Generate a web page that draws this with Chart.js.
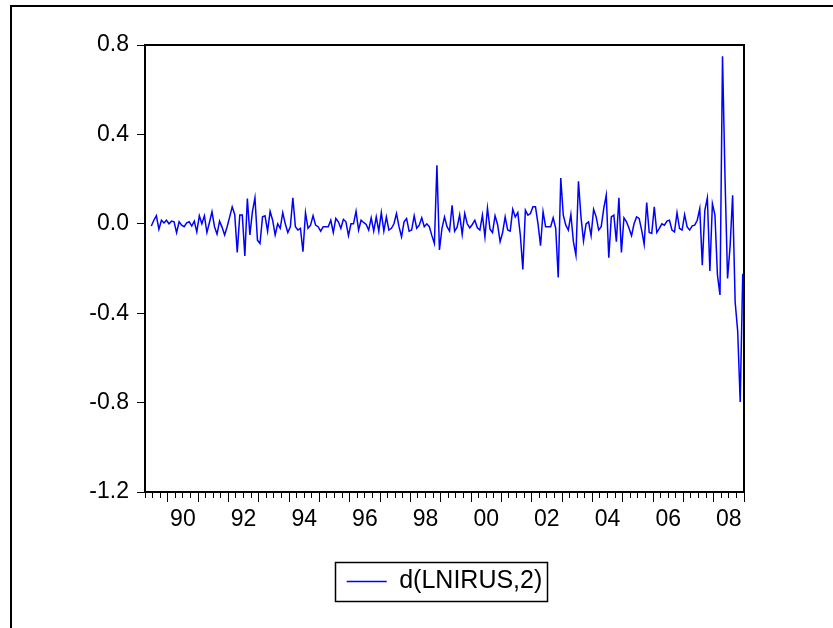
<!DOCTYPE html>
<html>
<head>
<meta charset="utf-8">
<script src="https://cdn.jsdelivr.net/npm/chart.js@4.4.1/dist/chart.umd.min.js"></script>
<style>
  html, body { margin: 0; padding: 0; background: #fff; }
  canvas { display: block; }
</style>
</head>
<body>
<canvas id="chart" width="833" height="628"></canvas>
<script>
// monthly sample, first observation 1989M06
const startYear = 1989;
const startMonth = 6;
const seriesName = 'd(LNIRUS,2)';

// second difference of ln(IRUS)
const values = [
  -0.010, 0.016, 0.036, -0.024, 0.016, 0.004, 0.016, 0.000, 0.012, 0.009,
  -0.040, 0.009, -0.006, -0.013, 0.004, 0.009, -0.010, 0.012, -0.036, 0.036,
  0.000, 0.036, -0.039, 0.006, 0.054, -0.013, -0.046, 0.012, -0.016, -0.050,
  -0.013, 0.031, 0.076, 0.042, -0.128, 0.039, 0.039, -0.144, 0.113, -0.050,
  0.054, 0.116, -0.073, -0.088, 0.031, 0.036, -0.033, 0.056, 0.016, -0.050,
  0.000, -0.020, 0.050, 0.000, -0.039, -0.013, 0.116, -0.013, -0.028, -0.020,
  -0.125, 0.050, -0.020, -0.006, 0.036, -0.006, -0.013, -0.033, -0.013, -0.013,
  -0.013, 0.016, -0.039, 0.024, 0.009, -0.020, 0.020, 0.009, -0.053, 0.000,
  0.000, 0.056, -0.028, 0.016, 0.006, -0.003, -0.028, 0.027, -0.033, 0.031,
  -0.033, 0.050, -0.033, 0.031, -0.028, -0.020, 0.000, 0.046, -0.013, -0.058,
  0.009, 0.024, -0.033, -0.028, 0.036, -0.020, -0.006, 0.027, -0.013, 0.000,
  -0.013, -0.053, -0.088, 0.262, -0.117, -0.020, 0.031, -0.013, -0.033, 0.083,
  -0.033, -0.015, 0.040, -0.048, 0.046, 0.000, -0.018, -0.003, 0.016, -0.018,
  -0.028, 0.039, -0.058, 0.071, -0.024, -0.039, 0.036, -0.003, -0.080, -0.039,
  0.031, -0.028, -0.033, 0.065, 0.031, 0.050, -0.050, -0.204, 0.061, 0.039,
  0.046, 0.076, 0.076, 0.000, -0.098, 0.054, -0.013, -0.013, -0.013, 0.027,
  -0.020, -0.240, 0.205, 0.039, -0.006, -0.028, 0.042, -0.080, -0.140, 0.190,
  0.031, -0.077, 0.000, 0.009, -0.053, 0.065, 0.031, -0.028, -0.013, 0.068,
  0.128, -0.152, 0.031, 0.039, -0.080, 0.116, -0.128, 0.027, 0.009, -0.020,
  -0.053, 0.000, 0.031, 0.024, -0.028, -0.092, 0.095, -0.039, -0.043, 0.076,
  -0.039, -0.020, 0.000, -0.006, 0.012, 0.016, -0.028, -0.036, 0.050, -0.021,
  -0.028, 0.041, -0.014, -0.028, -0.009, -0.006, 0.016, 0.068, -0.185, 0.060,
  0.116, -0.211, 0.090, 0.040, -0.230, -0.318, 0.750, 0.200, -0.245, -0.100,
  0.128, -0.350, -0.480, -0.797, -0.223
];

// axis ranges and tick labels
const xMin = 1989.25;   // 1989M04
const xMax = 2009.0;    // end of 2008M12
const yMin = -1.2;
const yMax = 0.8;
const yStep = 0.4;
const yearLabels = ['90', '92', '94', '96', '98', '00', '02', '04', '06', '08'];

// each month is placed in the middle of its slot
const points = values.map((v, i) => ({
    x: startYear + (startMonth - 1 + i + 0.5) / 12,
    y: v
}));

const tickFont = { family: '"Liberation Sans", Arial, sans-serif', size: 23 };

const frame = {
    id: 'frame',
    beforeDraw(chart) {
        const c = chart.ctx;
        c.save();
        c.fillStyle = '#fff';
        c.fillRect(0, 0, chart.width, chart.height);
        c.strokeStyle = '#000';
        c.lineWidth = 2;
        c.beginPath();
        c.moveTo(11, chart.height);
        c.lineTo(11, 6);
        c.lineTo(chart.width, 6);
        c.stroke();
        c.restore();
    },
    afterDraw(chart) {
        // box round the legend entry
        const hb = chart.legend.legendHitBoxes[0];
        if (!hb) return;
        const c = chart.ctx;
        c.save();
        c.strokeStyle = '#000';
        c.lineWidth = 1.5;
        c.strokeRect(Math.round(hb.left - 12) + 0.5, Math.round(hb.top - 7) + 0.5,
                     Math.round(hb.width + 16), Math.round(hb.height + 14));
        c.restore();
    }
};

new Chart(document.getElementById('chart').getContext('2d'), {
    type: 'line',
    data: {
        datasets: [{
            label: seriesName,
            data: points,
            borderColor: '#0000FF',
            backgroundColor: '#0000FF',
            borderWidth: 1.5,
            pointRadius: 0,
            tension: 0,
            fill: false
        }]
    },
    options: {
        responsive: false,
        animation: false,
        layout: { padding: { top: 45, right: 89, bottom: 24, left: 0 } },
        plugins: {
            tooltip: { enabled: false },
            legend: {
                display: true,
                position: 'bottom',
                fullSize: false,
                labels: {
                    color: '#000',
                    font: { family: '"Liberation Sans", Arial, sans-serif', size: 25 },
                    usePointStyle: true,
                    pointStyle: 'line',
                    pointStyleWidth: 40,
                    padding: 10
                }
            }
        },
        scales: {
            x: {
                type: 'linear',
                position: 'bottom',
                min: xMin,
                max: xMax,
                afterFit: (scale) => { scale.height = 67; },
                afterBuildTicks: (scale) => {
                    const ticks = [];
                    for (let q = Math.round(xMin * 4); q <= Math.round(xMax * 4); q++) {
                        ticks.push({ value: q / 4 });
                    }
                    scale.ticks = ticks;
                },
                border: { display: true, color: '#000', width: 2 },
                grid: {
                    drawOnChartArea: false,
                    drawTicks: true,
                    tickLength: 10,
                    tickColor: '#000',
                    tickWidth: 1,
                    tickBorderDash: (ctx) => (ctx.tick && ctx.tick.value % 1 === 0) ? [] : [5, 40]
                },
                ticks: {
                    autoSkip: false,
                    maxRotation: 0,
                    padding: 4,
                    color: '#000',
                    font: tickFont,
                    callback: (value) => {
                        if (value % 1 !== 0.5) return '';
                        const lab = String(Math.floor(value)).slice(2);
                        return yearLabels.includes(lab) ? lab : '';
                    }
                }
            },
            xTop: {
                type: 'linear',
                position: 'top',
                min: xMin,
                max: xMax,
                afterFit: (scale) => { scale.height = 0; },
                border: { display: true, color: '#000', width: 2 },
                grid: { drawOnChartArea: false, drawTicks: false },
                ticks: { display: false }
            },
            y: {
                type: 'linear',
                position: 'left',
                min: yMin,
                max: yMax,
                afterFit: (scale) => { scale.width = 145; },
                border: { display: true, color: '#000', width: 2 },
                grid: {
                    drawOnChartArea: false,
                    drawTicks: true,
                    tickLength: 8,
                    tickColor: '#000'
                },
                ticks: {
                    stepSize: yStep,
                    padding: 8,
                    color: '#000',
                    font: tickFont,
                    callback: (value) => value.toFixed(1)
                }
            },
            yRight: {
                type: 'linear',
                position: 'right',
                min: yMin,
                max: yMax,
                afterFit: (scale) => { scale.width = 0; },
                border: { display: true, color: '#000', width: 2 },
                grid: { drawOnChartArea: false, drawTicks: false },
                ticks: { display: false }
            }
        }
    },
    plugins: [frame]
});
</script>
</body>
</html>
